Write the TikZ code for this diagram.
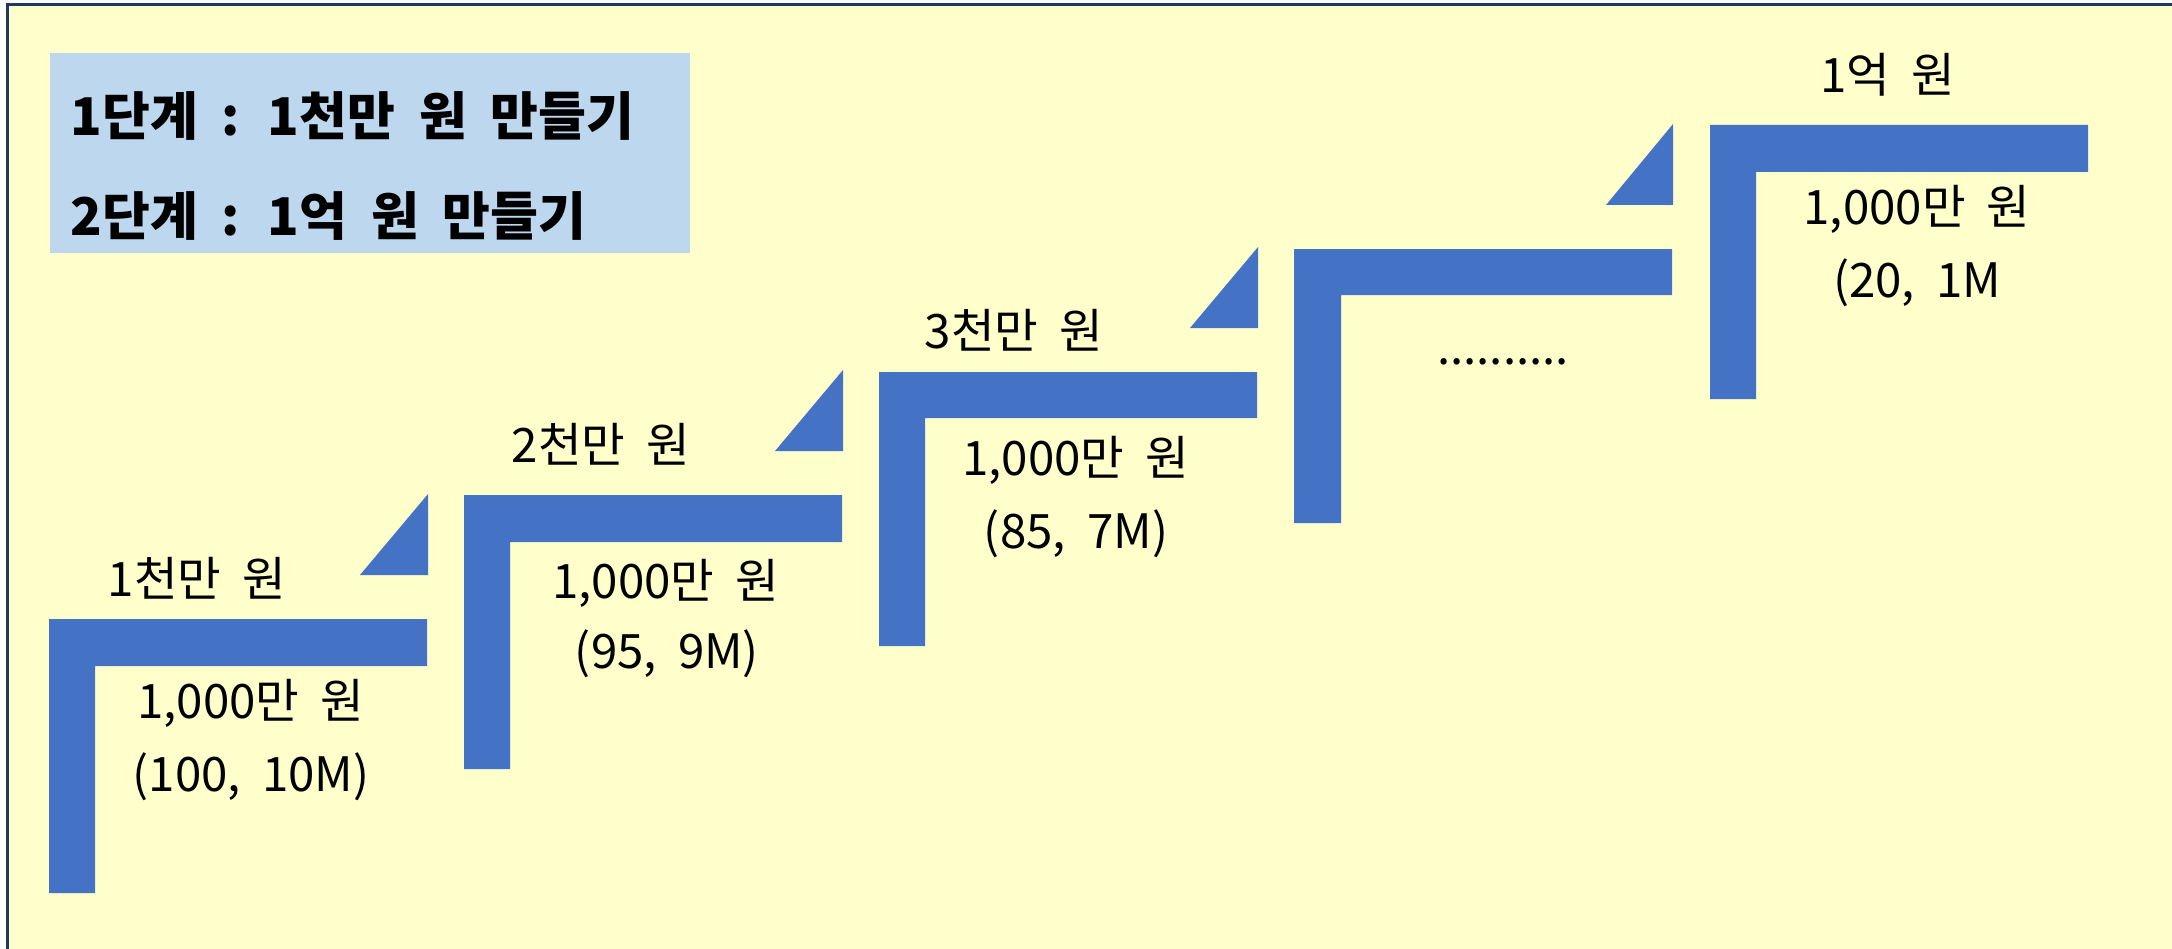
\documentclass[tikz,border=0pt]{standalone}
\usepackage{fontspec}
\setmainfont[WordSpace=2]{Noto Sans CJK KR}
\usepackage{xcolor}
\usepackage{tikz}
\definecolor{paper}{HTML}{FFFFCC}
\definecolor{stepblue}{HTML}{4472C4}
\definecolor{boxblue}{HTML}{BDD7EE}
\definecolor{frameblue}{HTML}{1F3864}

\begin{document}
\begin{tikzpicture}[x=0.1mm, y=-0.1mm,
    bar/.style={fill=stepblue},
    txt/.style={inner sep=0pt, anchor=base, font=\fontsize{13.5}{16}\selectfont},
    head/.style={inner sep=0pt, anchor=base west, font=\fontsize{14.8}{18}\selectfont\bfseries}]
    \useasboundingbox (0,0) rectangle (2172,949);
    \clip (0,0) rectangle (2172,949);
    \fill[paper, draw=frameblue, line width=0.25mm] (7.5,4.5) rectangle (2300,1100);

    % title box
    \fill[boxblue] (50,53) rectangle (690,253);
    \node[head] (stage1) at (70,136) {1단계 : 1천만 원 만들기};
    \node[head] (stage2) at (70,236) {2단계 : 1억 원 만들기};

    % stairs
    \fill[bar] (49,619) -- (427,619) -- (427,666) -- (95,666) -- (95,893) -- (49,893) -- cycle;
    \fill[bar] (360,575) -- (428,575) -- (428,494) -- cycle;
    \fill[bar] (464,495) -- (842,495) -- (842,542) -- (510,542) -- (510,769) -- (464,769) -- cycle;
    \fill[bar] (775,451) -- (843,451) -- (843,370) -- cycle;
    \fill[bar] (879,372) -- (1257,372) -- (1257,418) -- (925,418) -- (925,646) -- (879,646) -- cycle;
    \fill[bar] (1190,328) -- (1258,328) -- (1258,247) -- cycle;
    \fill[bar] (1294,249) -- (1672,249) -- (1672,295) -- (1341,295) -- (1341,523) -- (1294,523) -- cycle;
    \fill[bar] (1606,205) -- (1673,205) -- (1673,124) -- cycle;
    \fill[bar] (1710,125) -- (2088,125) -- (2088,172) -- (1756,172) -- (1756,399) -- (1710,399) -- cycle;

    % labels
    \node[txt] (goal1) at (197,596) {1천만 원};
    \node[txt] (add1) at (251,718) {1,000만 원};
    \node[txt] (pair1) at (251,791) {(100, 10M)};

    \node[txt] (goal2) at (601,462) {2천만 원};
    \node[txt] (add2) at (666,598) {1,000만 원};
    \node[txt] (pair2) at (667,668) {(95, 9M)};

    \node[txt] (goal3) at (1014,348) {3천만 원};
    \node[txt] (add3) at (1076,475) {1,000만 원};
    \node[txt] (pair3) at (1076,548) {(85, 7M)};

    \node[txt] (gap) at (1503,364) {..........};

    \node[txt] (goal5) at (1888,93) {1억 원};
    \node[txt] (add5) at (1917,225) {1,000만 원};
    \node[txt] (pair5) at (1917,297) {(20, 1M};
\end{tikzpicture}
\end{document}
